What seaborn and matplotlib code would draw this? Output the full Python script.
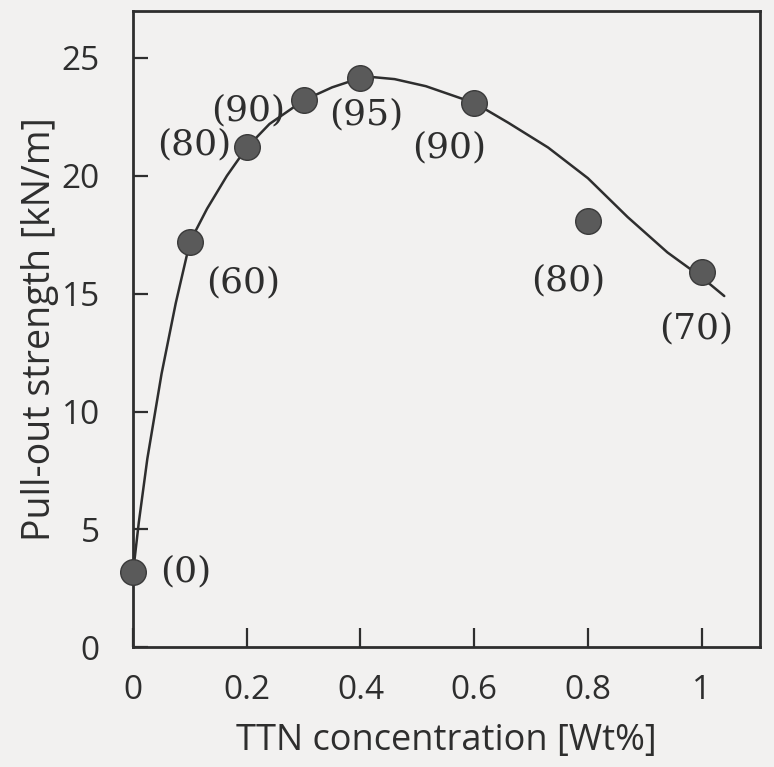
#!/usr/bin/env python3
"""Pull-out strength vs TTN concentration (scanned figure remake)."""

import matplotlib

matplotlib.use("Agg")
import matplotlib.pyplot as plt
import pandas as pd
import seaborn as sns

# measured points
CONC = [0.0, 0.1, 0.2, 0.3, 0.4, 0.6, 0.8, 1.0]
STRENGTH = [3.2, 17.2, 21.2, 23.2, 24.15, 23.1, 18.1, 15.9]
POINT_LABELS = ["(0)", "(60)", "(80)", "(90)", "(95)", "(90)", "(80)", "(70)"]

# hand-drawn trend curve
CURVE_X = [0.0, 0.01, 0.025, 0.05, 0.075, 0.1, 0.13, 0.165, 0.2, 0.24, 0.3, 0.35,
           0.4, 0.415, 0.46, 0.515, 0.575, 0.6, 0.66, 0.73, 0.8, 0.87, 0.94, 1.0, 1.04]
CURVE_Y = [3.2, 5.3, 8.0, 11.6, 14.6, 17.2, 18.6, 20.0, 21.2, 22.2, 23.2, 23.75,
           24.15, 24.2, 24.1, 23.8, 23.3, 23.1, 22.25, 21.2, 19.9, 18.25, 16.75, 15.7, 14.9]

X_TICKS = [0, 0.2, 0.4, 0.6, 0.8, 1.0]
X_TICK_LABELS = ["0", "0.2", "0.4", "0.6", "0.8", "1"]
Y_TICKS = [0, 5, 10, 15, 20, 25]

# label offsets (points) relative to each marker
LABEL_OFFSETS = [(38, 0), (38, -29), (-38, 2), (-40, -7), (4, -26), (-18, -32), (-14, -43), (-4, -40)]

BG = "#f2f1f0"
INK = "#2e2e2e"


def main() -> None:
    sns.set_theme(style="ticks", rc={"axes.facecolor": BG, "figure.facecolor": BG})
    plt.rcParams["font.family"] = ["Open Sans", "DejaVu Sans"]

    fig = plt.figure(figsize=(7.74, 7.67), dpi=100)
    ax = fig.add_axes([0.172, 0.156, 0.81, 0.83])

    curve = pd.DataFrame({"x": CURVE_X, "y": CURVE_Y})
    pts = pd.DataFrame({"x": CONC, "y": STRENGTH})

    sns.lineplot(data=curve, x="x", y="y", ax=ax, color=INK, linewidth=1.8, sort=False, zorder=2)
    sns.scatterplot(data=pts, x="x", y="y", ax=ax, s=340, color="#5a5a5a",
                    edgecolor="#3a3a3a", linewidth=1.0, zorder=3, clip_on=False)

    for x, y, lab, off in zip(CONC, STRENGTH, POINT_LABELS, LABEL_OFFSETS):
        ax.annotate(lab, (x, y), xytext=off, textcoords="offset points",
                    ha="center", va="center", fontsize=26, color=INK,
                    family="DejaVu Serif")

    ax.set_xlim(0, 1.103)
    ax.set_ylim(0, 27)
    ax.set_xticks(X_TICKS)
    ax.set_xticklabels(X_TICK_LABELS)
    ax.set_yticks(Y_TICKS)
    ax.tick_params(axis="both", direction="in", colors=INK, labelsize=24, labelcolor=INK)
    ax.tick_params(axis="x", length=14, width=1.6, pad=19)
    ax.tick_params(axis="y", length=11, width=1.6, pad=24)

    for side in ["left", "right", "top", "bottom"]:
        ax.spines[side].set_visible(True)
        ax.spines[side].set_color(INK)
        ax.spines[side].set_linewidth(2.0)

    ax.set_xlabel("TTN concentration [Wt%]", fontsize=26, color=INK, labelpad=12)
    ax.set_ylabel("Pull-out strength [kN/m]", fontsize=27, color=INK, labelpad=2)

    fig.savefig("out.png", dpi=100, facecolor=BG)
    plt.close(fig)


if __name__ == "__main__":
    main()
